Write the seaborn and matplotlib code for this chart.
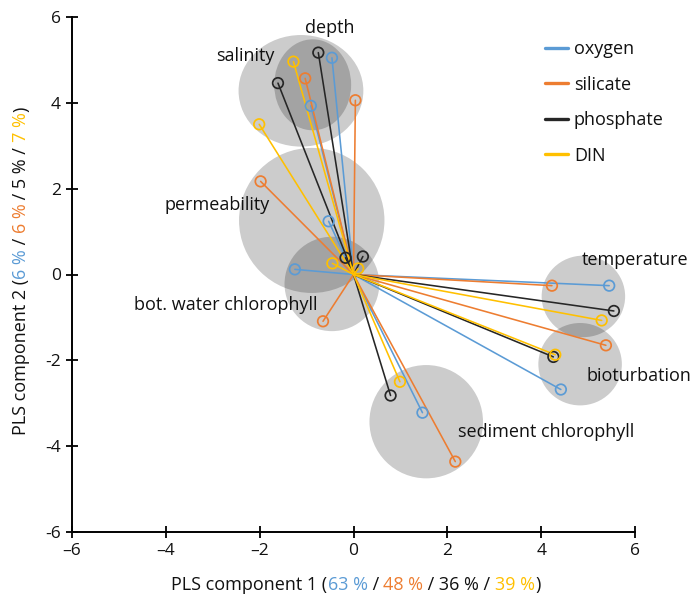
import numpy as np
import pandas as pd
import matplotlib
matplotlib.use("Agg")
import matplotlib.pyplot as plt
import seaborn as sns
from matplotlib.patches import Ellipse
from matplotlib.lines import Line2D
from matplotlib.transforms import IdentityTransform

# ---------------- data ----------------
variables = ["depth", "salinity", "permeability", "bot. water chlorophyll",
             "temperature", "bioturbation", "sediment chlorophyll"]
nutrients = ["oxygen", "silicate", "phosphate", "DIN"]

oxygen_x = [-0.46, -0.91, -0.53, -1.25, 5.45, 4.42, 1.47]
oxygen_y = [5.05, 3.93, 1.24, 0.12, -0.26, -2.68, -3.22]
silicate_x = [0.04, -1.03, -1.98, -0.65, 4.23, 5.38, 2.17]
silicate_y = [4.06, 4.57, 2.17, -1.09, -0.26, -1.65, -4.36]
phosphate_x = [-0.75, -1.61, -0.17, 0.20, 5.55, 4.26, 0.79]
phosphate_y = [5.17, 4.46, 0.39, 0.42, -0.85, -1.92, -2.82]
din_x = [-1.28, -2.01, -0.45, 0.10, 5.29, 4.30, 0.99]
din_y = [4.96, 3.50, 0.26, 0.14, -1.07, -1.87, -2.50]

# bubbles (centre and extent in data units)
bubble_x = [-0.87, -1.12, -0.89, -0.46, 4.90, 4.83, 1.55]
bubble_y = [4.42, 4.28, 1.26, -0.22, -0.51, -2.09, -3.43]
bubble_w = [1.64, 2.66, 3.10, 2.02, 1.78, 1.78, 2.42]
bubble_h = [2.12, 2.60, 3.38, 2.20, 1.90, 1.92, 2.64]

x_ticks = [-6, -4, -2, 0, 2, 4, 6]
x_tick_labels = ["\u20136", "\u20134", "\u20132", "0", "2", "4", "6"]
y_ticks = [-6, -4, -2, 0, 2, 4, 6]
y_tick_labels = ["-6", "-4", "-2", "0", "2", "4", "6"]

x_label_parts = [("PLS component 1 (", "k"), ("63 %", "oxygen"), (" / ", "k"),
                 ("48 %", "silicate"), (" / 36 % / ", "k"), ("39 %", "DIN"), (")", "k")]
y_label_parts = [("PLS component 2 (", "k"), ("6 %", "oxygen"), (" / ", "k"),
                 ("6 %", "silicate"), (" / 5 % / ", "k"), ("7 %", "DIN"), (")", "k")]

colors = {"oxygen": "#5B9BD5", "silicate": "#ED7D31", "phosphate": "#262626",
          "DIN": "#FFC000", "k": "#111111"}

coords = {"oxygen": (oxygen_x, oxygen_y), "silicate": (silicate_x, silicate_y),
          "phosphate": (phosphate_x, phosphate_y), "DIN": (din_x, din_y)}

rows, ends = [], []
for n in nutrients:
    xs, ys = coords[n]
    for v, x, y in zip(variables, xs, ys):
        rows.append({"nutrient": n, "variable": v, "x": 0.0, "y": 0.0})
        rows.append({"nutrient": n, "variable": v, "x": x, "y": y})
        ends.append({"nutrient": n, "variable": v, "x": x, "y": y})
lines_df = pd.DataFrame(rows)
ends_df = pd.DataFrame(ends)

# ---------------- figure ----------------
sns.set_theme(style="ticks")
plt.rcParams["font.family"] = ["Open Sans", "DejaVu Sans"]
FONT = 13

fig = plt.figure(figsize=(6.93, 5.98), dpi=100)
ax = fig.add_axes([72 / 693, 1 - 532 / 598, (635 - 72) / 693, (532 - 17) / 598])

for bx, by, bw, bh in zip(bubble_x, bubble_y, bubble_w, bubble_h):
    ax.add_patch(Ellipse((bx, by), bw, bh, facecolor="black", alpha=0.2,
                         edgecolor="none", zorder=0))

pal = {n: colors[n] for n in nutrients}
sns.lineplot(data=lines_df, x="x", y="y", hue="nutrient", units="variable",
             estimator=None, sort=False, palette=pal, linewidth=1.15,
             legend=False, ax=ax, zorder=2)
sns.scatterplot(data=ends_df, x="x", y="y", hue="nutrient", palette=pal,
                s=58, legend=False, ax=ax, zorder=3)
coll = ax.collections[-1]
fc = coll.get_facecolors()
coll.set_edgecolors(fc)
coll.set_facecolors("none")
coll.set_linewidths(1.25)

# variable labels
label_pos = {"depth": (-0.51, 5.74), "salinity": (-2.3, 5.09),
             "permeability": (-2.9, 1.63), "bot. water chlorophyll": (-2.72, -0.70),
             "temperature": (6.0, 0.33), "bioturbation": (6.09, -2.37),
             "sediment chlorophyll": (4.1, -3.67)}
for v in variables:
    lx, ly = label_pos[v]
    ax.text(lx, ly, v, ha="center", va="center", fontsize=FONT,
            color=colors["k"], zorder=5, clip_on=False)

ax.set_xlim(-6, 6)
ax.set_ylim(-6, 6)
ax.set_xticks(x_ticks)
ax.set_xticklabels(x_tick_labels)
ax.set_yticks(y_ticks)
ax.set_yticklabels(y_tick_labels)
ax.set_xlabel("")
ax.set_ylabel("")
sns.despine(ax=ax)
for s in ["left", "bottom"]:
    ax.spines[s].set_linewidth(1.4)
    ax.spines[s].set_color("black")
ax.tick_params(direction="inout", length=8, width=1.3, labelsize=12.5,
               colors="black", labelcolor=colors["k"], pad=4)
ax.set_facecolor("none")

handles = [Line2D([0], [0], color=colors[n], lw=2.4) for n in nutrients]
fig.legend(handles, nutrients, loc="upper left",
           bbox_to_anchor=(545 / 693, 1 - 40 / 598), frameon=False,
           fontsize=FONT, handlelength=1.25, handletextpad=0.35,
           labelspacing=0.97, borderaxespad=0, borderpad=0,
           labelcolor=colors["k"])

# multi-coloured axis labels
def chain(parts, start, rotation):
    texts = []
    t0 = fig.text(start[0], start[1], parts[0][0], transform=IdentityTransform(),
                  fontsize=FONT, color=colors[parts[0][1]], rotation=rotation,
                  ha="left", va="bottom")
    texts.append(t0)
    prev = t0
    for s, c in parts[1:]:
        if rotation == 0:
            t = ax.annotate(s, xy=(1, 0), xycoords=prev, ha="left", va="bottom",
                            fontsize=FONT, color=colors[c], annotation_clip=False)
        else:
            t = ax.annotate(s, xy=(0, 1), xycoords=prev, ha="left", va="bottom",
                            rotation=90, fontsize=FONT, color=colors[c],
                            annotation_clip=False)
        texts.append(t)
        prev = t
    return texts

xt = chain(x_label_parts, (160, 6), 0)
yt = chain(y_label_parts, (10, 100), 90)
fig.canvas.draw()
r = fig.canvas.get_renderer()
b0 = xt[0].get_window_extent(r); b1 = xt[-1].get_window_extent(r)
w = b1.x1 - b0.x0
xt[0].set_position((356 - w / 2, 598 - 594))
b0 = yt[0].get_window_extent(r); b1 = yt[-1].get_window_extent(r)
h = b1.y1 - b0.y0
yt[0].set_position((12, (598 - 271) - h / 2))

fig.savefig("out.png", dpi=100)
